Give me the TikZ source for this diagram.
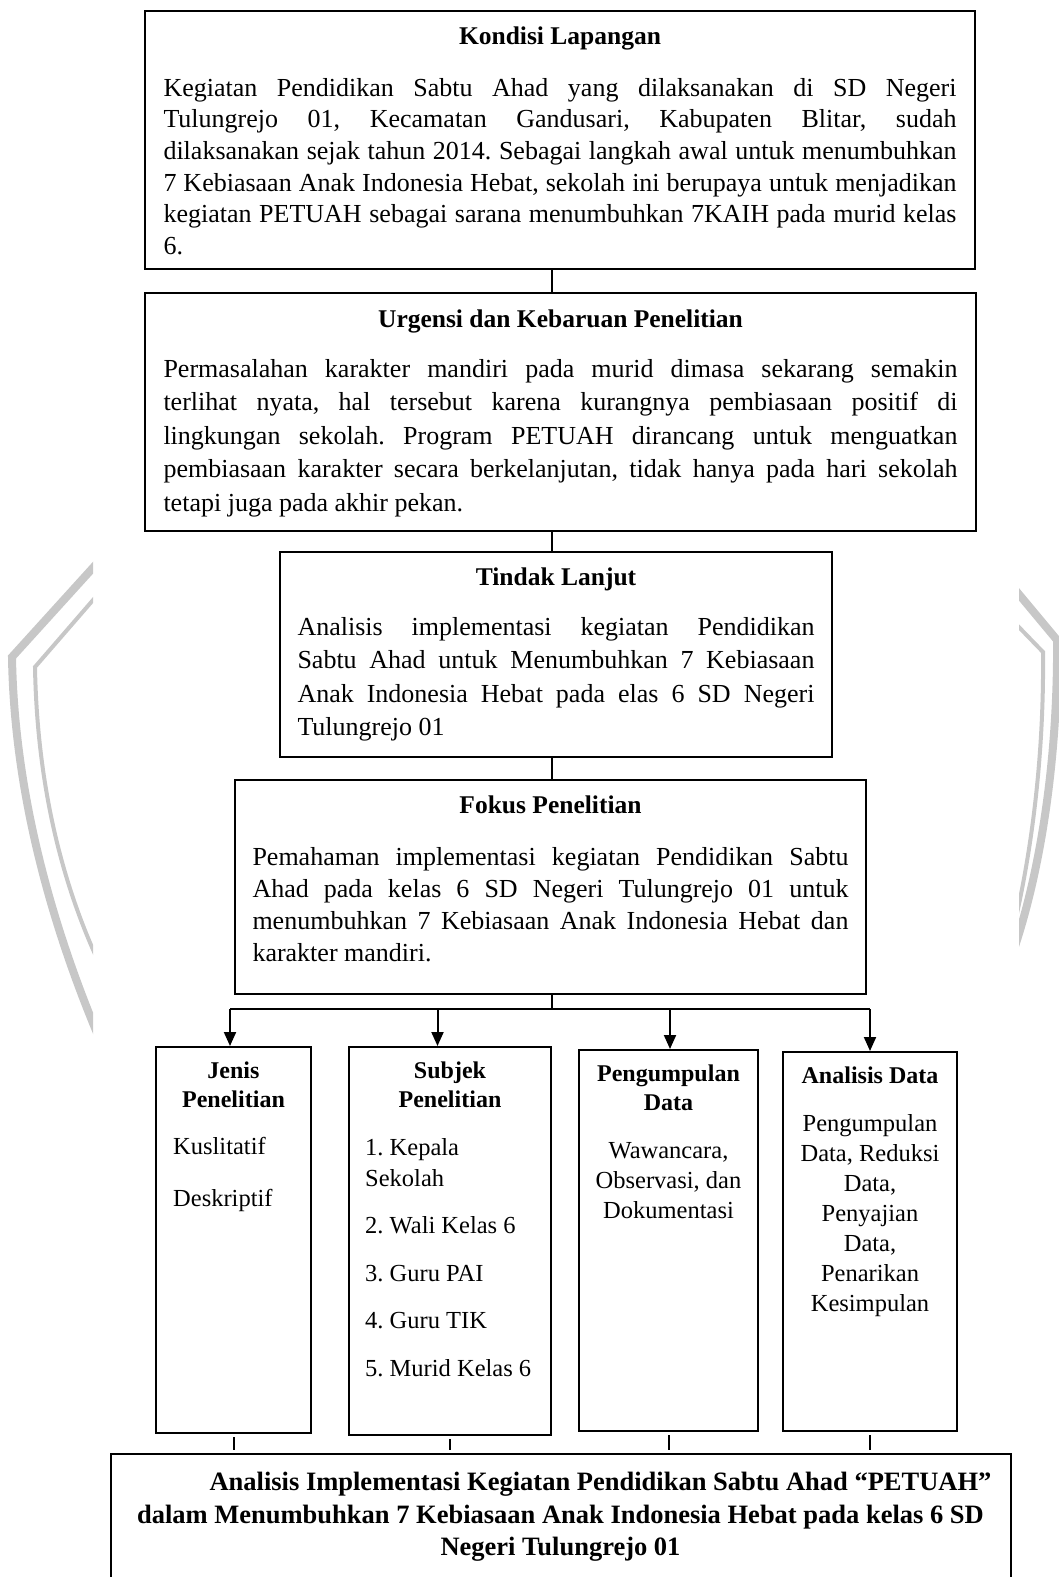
\documentclass[tikz,border=0pt]{standalone}
\usepackage{fontspec}
\setmainfont{Liberation Serif}
\usetikzlibrary{positioning,arrows.meta}
\hyphenpenalty=10000
\exhyphenpenalty=10000
\tolerance=9999
\frenchspacing

\tikzset{
    frame/.style={draw, line width=2pt, inner sep=0pt, anchor=north west},
    link/.style={line width=2pt},
    head/.style={font=\bfseries\fontsize{25.5}{29}\selectfont, align=center, inner sep=0pt},
    shead/.style={font=\bfseries\fontsize{24}{29}\selectfont, align=center, inner sep=0pt},
    para/.style={font=\fontsize{26}{#1}\selectfont, align=justify, inner sep=0pt},
    sbody/.style={font=\fontsize{24.5}{#1}\selectfont, inner sep=0pt},
    wmark/.style={draw=black!22, line cap=butt, line join=miter}
}

\begin{document}
\begin{tikzpicture}[x=1pt, y=-1pt, >={Triangle[length=14pt, width=12pt]}]
    \useasboundingbox (0, 0) rectangle (1059, 1577);
    \clip (0, 0) rectangle (1059, 1577);

    % watermark
    \begin{scope}
        \clip (0, 0) rectangle (93, 1577);
        \draw[wmark, line width=8pt] (100, 560) -- (12, 657) .. controls (14, 780) and (45, 910) .. (100, 1040);
        \draw[wmark, line width=4pt] (100, 592) -- (35, 667) .. controls (37, 780) and (60, 880) .. (100, 965);
    \end{scope}
    \begin{scope}
        \clip (1019, 0) rectangle (1059, 1577);
        \draw[wmark, line width=8pt] (1012, 586) -- (1057, 640) .. controls (1058, 740) and (1045, 860) .. (1012, 955);
        \draw[wmark, line width=4pt] (1012, 620) -- (1043, 652) .. controls (1044, 740) and (1035, 840) .. (1012, 935);
    \end{scope}

    \node[frame, minimum width=830pt, minimum height=258pt] (kondisi) at (144, 10) {};
    \node[frame, minimum width=831pt, minimum height=238pt] (urgensi) at (144, 292) {};
    \node[frame, minimum width=552pt, minimum height=205pt] (tindak) at (279, 551) {};
    \node[frame, minimum width=631pt, minimum height=214pt] (fokus) at (234, 779) {};
    \node[frame, minimum width=155pt, minimum height=386pt] (jenis) at (155, 1046) {};
    \node[frame, minimum width=202pt, minimum height=388pt] (subjek) at (348, 1046) {};
    \node[frame, minimum width=179pt, minimum height=381pt] (pengumpulan) at (578, 1049) {};
    \node[frame, minimum width=174pt, minimum height=379pt] (analisis) at (782, 1051) {};
    \node[frame, minimum width=900pt, minimum height=200pt] (hasil) at (109.5, 1453) {};

    \node[head, below=17pt of kondisi.north] (kondisiT) {Kondisi Lapangan};
    \node[para=31.6, text width=793pt, below=68pt of kondisi.north] (kondisiB)
        {Kegiatan Pendidikan Sabtu Ahad yang dilaksanakan di SD Negeri\linebreak
         Tulungrejo 01, Kecamatan Gandusari, Kabupaten Blitar, sudah\linebreak
         dilaksanakan sejak tahun 2014. Sebagai langkah awal untuk menumbuhkan\linebreak
         7 Kebiasaan Anak Indonesia Hebat, sekolah ini berupaya untuk menjadikan\linebreak
         kegiatan PETUAH sebagai sarana menumbuhkan 7KAIH pada murid kelas\linebreak
         6.};

    \node[head, below=17.5pt of urgensi.north] (urgensiT) {Urgensi dan Kebaruan Penelitian};
    \node[para=33.5, text width=794pt, below=67pt of urgensi.north] (urgensiB)
        {Permasalahan karakter mandiri pada murid dimasa sekarang semakin\linebreak
         terlihat nyata, hal tersebut karena kurangnya pembiasaan positif di\linebreak
         lingkungan sekolah. Program PETUAH dirancang untuk menguatkan\linebreak
         pembiasaan karakter secara berkelanjutan, tidak hanya pada hari sekolah\linebreak
         tetapi juga pada akhir pekan.};

    \node[head, below=17pt of tindak.north] (tindakT) {Tindak Lanjut};
    \node[para=33.5, text width=517pt, below=66pt of tindak.north] (tindakB)
        {Analisis implementasi kegiatan Pendidikan\linebreak
         Sabtu Ahad untuk Menumbuhkan 7 Kebiasaan\linebreak
         Anak Indonesia Hebat pada elas 6 SD Negeri\linebreak
         Tulungrejo 01};

    \node[head, below=17pt of fokus.north] (fokusT) {Fokus Penelitian};
    \node[para=32, text width=596pt, below=68pt of fokus.north] (fokusB)
        {Pemahaman implementasi kegiatan Pendidikan Sabtu\linebreak
         Ahad pada kelas 6 SD Negeri Tulungrejo 01 untuk\linebreak
         menumbuhkan 7 Kebiasaan Anak Indonesia Hebat dan\linebreak
         karakter mandiri.};

    \node[shead, below=16pt of jenis.north] (jenisT) {Jenis\\Penelitian};
    \node[sbody=31, align=left, below right=91pt and 18pt of jenis.north west] (jenisB)
        {Kuslitatif\\[21pt]Deskriptif};

    \node[shead, below=16pt of subjek.north] (subjekT) {Subjek\\Penelitian};
    \node[sbody=31, align=left, below right=92pt and 17pt of subjek.north west] (subjekB)
        {1. Kepala\\Sekolah\\[16.5pt]2. Wali Kelas 6\\[16.5pt]3. Guru PAI\\[16.5pt]4. Guru TIK\\[16.5pt]5. Murid Kelas 6};

    \node[shead, below=15.5pt of pengumpulan.north] (pengumpulanT) {Pengumpulan\\Data};
    \node[sbody=30.3, align=center, below=93pt of pengumpulan.north] (pengumpulanB)
        {Wawancara,\\Observasi, dan\\Dokumentasi};

    \node[shead, below=15.5pt of analisis.north] (analisisT) {Analisis Data};
    \node[sbody=30, align=center, below=63.5pt of analisis.north] (analisisB)
        {Pengumpulan\\Data, Reduksi\\Data,\\Penyajian\\Data,\\Penarikan\\Kesimpulan};

    \node[head, font=\bfseries\fontsize{26.5}{32.5}\selectfont, below=19pt of hasil.north] (hasilT)
        {\hspace*{80pt}Analisis Implementasi Kegiatan Pendidikan Sabtu Ahad “PETUAH”\\
         dalam Menumbuhkan 7 Kebiasaan Anak Indonesia Hebat pada kelas 6 SD\\
         Negeri Tulungrejo 01};

    \coordinate (spine) at (552, 0);
    \coordinate (bar) at (0, 1009);
    \coordinate (t1) at (230, 1009);
    \coordinate (t2) at (437.5, 1009);
    \coordinate (t3) at (670, 1009);
    \coordinate (t4) at (870, 1009);

    \draw[link] (kondisi.south -| spine) -- (urgensi.north -| spine);
    \draw[link] (urgensi.south -| spine) -- (tindak.north -| spine);
    \draw[link] (tindak.south -| spine) -- (fokus.north -| spine);
    \draw[link] (fokus.south -| spine) -- (spine |- bar);
    \draw[link] (t1) -- (t4);
    \draw[link, ->] (t1) -- (t1 |- jenis.north);
    \draw[link, ->] (t2) -- (t2 |- subjek.north);
    \draw[link, ->] (t3) -- (t3 |- pengumpulan.north);
    \draw[link, ->] (t4) -- (t4 |- analisis.north);

    \draw[link] ([yshift=-3pt]jenis.south) -- ([yshift=3pt]jenis.south |- hasil.north);
    \draw[link] ([yshift=-3pt]subjek.south) -- ([yshift=3pt]subjek.south |- hasil.north);
    \draw[link] ([yshift=-3pt]pengumpulan.south) -- ([yshift=3pt]pengumpulan.south |- hasil.north);
    \draw[link] ([yshift=-3pt]analisis.south) -- ([yshift=3pt]analisis.south |- hasil.north);
\end{tikzpicture}
\end{document}
